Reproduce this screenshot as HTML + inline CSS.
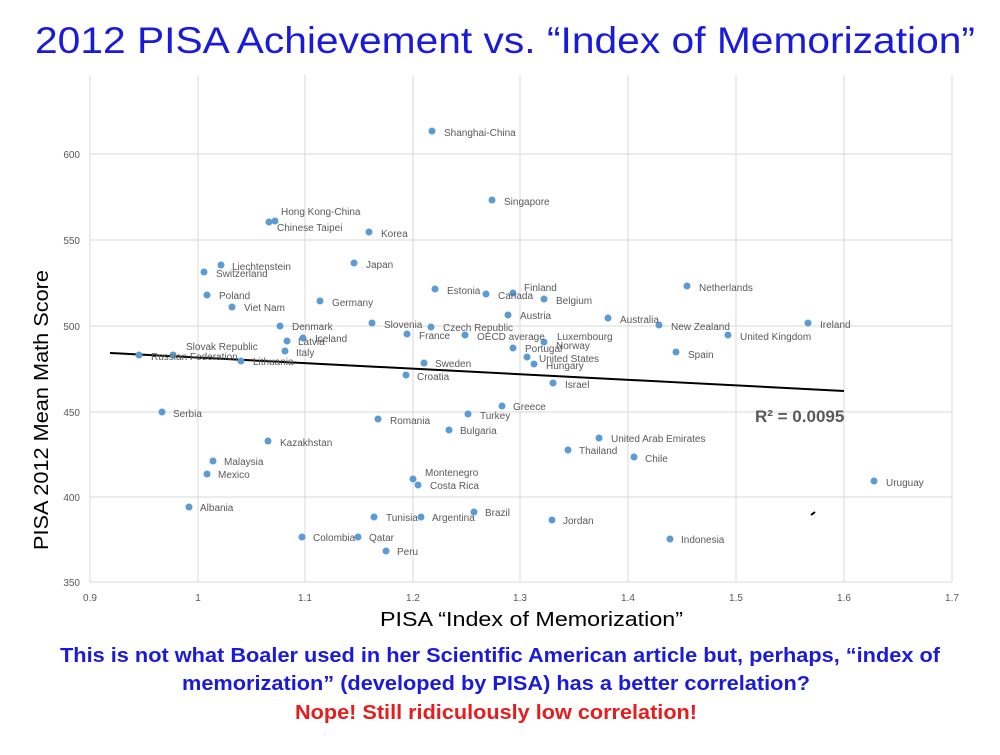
<!DOCTYPE html>
<html><head><meta charset="utf-8"><style>
body{margin:0;background:#fff;width:1000px;height:750px;overflow:hidden;font-family:"Liberation Sans",sans-serif}
</style></head><body>
<svg width="1000" height="750" xmlns="http://www.w3.org/2000/svg" font-family="Liberation Sans, sans-serif">
<text x="35" y="53" font-size="37" fill="#1a1adb" textLength="940" lengthAdjust="spacingAndGlyphs">2012 PISA Achievement vs. “Index of Memorization”</text>
<g stroke="#d9d9d9" stroke-width="1">
<line x1="90" y1="75" x2="90" y2="582"/><line x1="198" y1="75" x2="198" y2="582"/><line x1="305" y1="75" x2="305" y2="582"/><line x1="413" y1="75" x2="413" y2="582"/><line x1="520" y1="75" x2="520" y2="582"/><line x1="628" y1="75" x2="628" y2="582"/><line x1="736" y1="75" x2="736" y2="582"/><line x1="844" y1="75" x2="844" y2="582"/><line x1="952" y1="75" x2="952" y2="582"/>
<line x1="90" y1="154" x2="952" y2="154"/><line x1="90" y1="240" x2="952" y2="240"/><line x1="90" y1="326" x2="952" y2="326"/><line x1="90" y1="412" x2="952" y2="412"/><line x1="90" y1="497" x2="952" y2="497"/><line x1="90" y1="582" x2="952" y2="582"/>
</g>
<g font-size="10" fill="#595959" text-anchor="end">
<text x="80" y="158">600</text><text x="80" y="244">550</text><text x="80" y="330">500</text><text x="80" y="416">450</text><text x="80" y="501">400</text><text x="80" y="586">350</text>
</g>
<g font-size="10" fill="#595959" text-anchor="middle">
<text x="90" y="601">0.9</text><text x="198" y="601">1</text><text x="305" y="601">1.1</text><text x="413" y="601">1.2</text><text x="520" y="601">1.3</text><text x="628" y="601">1.4</text><text x="736" y="601">1.5</text><text x="844" y="601">1.6</text><text x="952" y="601">1.7</text>
</g>
<line x1="110" y1="353" x2="844" y2="391" stroke="#000" stroke-width="2"/>
<text x="755" y="422" font-size="17" font-weight="bold" fill="#595959">R² = 0.0095</text>
<g fill="#5b9bd5">
<circle cx="432" cy="131" r="3.5"/><circle cx="492" cy="200" r="3.5"/><circle cx="275" cy="221" r="3.5"/><circle cx="269" cy="222" r="3.5"/><circle cx="369" cy="232" r="3.5"/><circle cx="221" cy="265" r="3.5"/><circle cx="204" cy="272" r="3.5"/><circle cx="354" cy="263" r="3.5"/><circle cx="207" cy="295" r="3.5"/><circle cx="232" cy="307" r="3.5"/><circle cx="320" cy="301" r="3.5"/><circle cx="435" cy="289" r="3.5"/><circle cx="486" cy="294" r="3.5"/><circle cx="513" cy="293" r="3.5"/><circle cx="544" cy="299" r="3.5"/><circle cx="687" cy="286" r="3.5"/><circle cx="508" cy="315" r="3.5"/><circle cx="608" cy="318" r="3.5"/><circle cx="659" cy="325" r="3.5"/><circle cx="808" cy="323" r="3.5"/><circle cx="728" cy="335" r="3.5"/><circle cx="280" cy="326" r="3.5"/><circle cx="372" cy="323" r="3.5"/><circle cx="431" cy="327" r="3.5"/><circle cx="303" cy="338" r="3.5"/><circle cx="287" cy="341" r="3.5"/><circle cx="407" cy="334" r="3.5"/><circle cx="465" cy="335" r="3.5"/><circle cx="544" cy="342" r="3.5"/><circle cx="513" cy="348" r="3.5"/><circle cx="676" cy="352" r="3.5"/><circle cx="285" cy="351" r="3.5"/><circle cx="173" cy="355" r="3.5"/><circle cx="139" cy="355" r="3.5"/><circle cx="241" cy="361" r="3.5"/><circle cx="527" cy="357" r="3.5"/><circle cx="534" cy="364" r="3.5"/><circle cx="424" cy="363" r="3.5"/><circle cx="406" cy="375" r="3.5"/><circle cx="553" cy="383" r="3.5"/><circle cx="502" cy="406" r="3.5"/><circle cx="468" cy="414" r="3.5"/><circle cx="162" cy="412" r="3.5"/><circle cx="378" cy="419" r="3.5"/><circle cx="449" cy="430" r="3.5"/><circle cx="268" cy="441" r="3.5"/><circle cx="599" cy="438" r="3.5"/><circle cx="568" cy="450" r="3.5"/><circle cx="634" cy="457" r="3.5"/><circle cx="213" cy="461" r="3.5"/><circle cx="207" cy="474" r="3.5"/><circle cx="413" cy="479" r="3.5"/><circle cx="418" cy="485" r="3.5"/><circle cx="874" cy="481" r="3.5"/><circle cx="189" cy="507" r="3.5"/><circle cx="474" cy="512" r="3.5"/><circle cx="374" cy="517" r="3.5"/><circle cx="421" cy="517" r="3.5"/><circle cx="552" cy="520" r="3.5"/><circle cx="302" cy="537" r="3.5"/><circle cx="358" cy="537" r="3.5"/><circle cx="386" cy="551" r="3.5"/><circle cx="670" cy="539" r="3.5"/>
</g>
<g font-size="10" fill="#595959">
<text x="444" y="136">Shanghai-China</text><text x="504" y="205">Singapore</text><text x="281" y="215">Hong Kong-China</text><text x="277" y="231">Chinese Taipei</text><text x="381" y="237">Korea</text><text x="232" y="270">Liechtenstein</text><text x="216" y="277">Switzerland</text><text x="366" y="268">Japan</text><text x="219" y="299">Poland</text><text x="244" y="311">Viet Nam</text><text x="332" y="306">Germany</text><text x="447" y="294">Estonia</text><text x="498" y="299">Canada</text><text x="524" y="291">Finland</text><text x="556" y="304">Belgium</text><text x="699" y="291">Netherlands</text><text x="520" y="319">Austria</text><text x="620" y="323">Australia</text><text x="671" y="330">New Zealand</text><text x="820" y="328">Ireland</text><text x="740" y="340">United Kingdom</text><text x="292" y="330">Denmark</text><text x="384" y="328">Slovenia</text><text x="443" y="331">Czech Republic</text><text x="315" y="342">Iceland</text><text x="298" y="345">Latvia</text><text x="419" y="339">France</text><text x="477" y="340">OECD average</text><text x="557" y="340">Luxembourg</text><text x="556" y="349">Norway</text><text x="525" y="352">Portugal</text><text x="688" y="358">Spain</text><text x="296" y="356">Italy</text><text x="186" y="350">Slovak Republic</text><text x="151" y="360">Russian Federation</text><text x="253" y="365">Lithuania</text><text x="539" y="362">United States</text><text x="546" y="369">Hungary</text><text x="435" y="367">Sweden</text><text x="417" y="380">Croatia</text><text x="565" y="388">Israel</text><text x="513" y="410">Greece</text><text x="480" y="419">Turkey</text><text x="173" y="417">Serbia</text><text x="390" y="424">Romania</text><text x="460" y="434">Bulgaria</text><text x="280" y="446">Kazakhstan</text><text x="611" y="442">United Arab Emirates</text><text x="579" y="454">Thailand</text><text x="645" y="462">Chile</text><text x="224" y="465">Malaysia</text><text x="218" y="478">Mexico</text><text x="425" y="476">Montenegro</text><text x="430" y="489">Costa Rica</text><text x="886" y="486">Uruguay</text><text x="200" y="511">Albania</text><text x="485" y="516">Brazil</text><text x="386" y="521">Tunisia</text><text x="432" y="521">Argentina</text><text x="563" y="524">Jordan</text><text x="313" y="541">Colombia</text><text x="369" y="541">Qatar</text><text x="397" y="555">Peru</text><text x="681" y="543">Indonesia</text>
</g>
<path d="M811 515 l4 -3" stroke="#000" stroke-width="2"/>
<text transform="translate(48,410) rotate(-90)" text-anchor="middle" font-size="20" fill="#000" textLength="280" lengthAdjust="spacingAndGlyphs">PISA 2012 Mean Math Score</text>
<text x="380" y="626" font-size="20" fill="#000" textLength="303" lengthAdjust="spacingAndGlyphs">PISA “Index of Memorization”</text>
<g font-size="20" font-weight="bold">
<text x="60" y="662" fill="#1a1adb" textLength="880" lengthAdjust="spacingAndGlyphs">This is not what Boaler used in her Scientific American article but, perhaps, “index of</text>
<text x="182" y="690" fill="#1a1adb" textLength="628" lengthAdjust="spacingAndGlyphs">memorization” (developed by PISA) has a better correlation?</text>
<text x="295" y="719" fill="#e81c1c" textLength="402" lengthAdjust="spacingAndGlyphs">Nope! Still ridiculously low correlation!</text>
</g>
</svg>
</body></html>
